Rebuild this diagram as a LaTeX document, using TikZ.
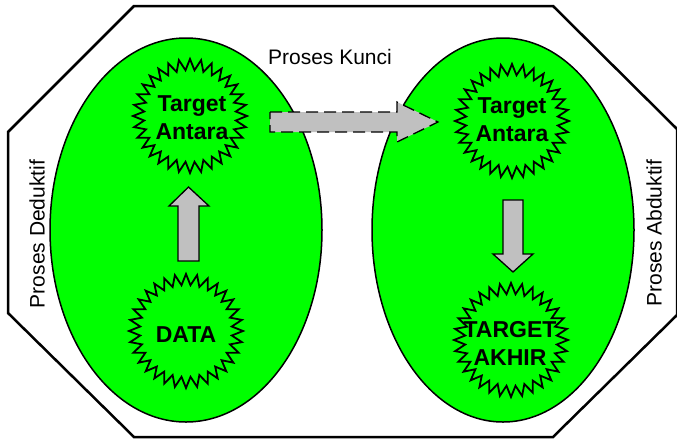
\documentclass[tikz,border=0pt]{standalone}
\usepackage{fontspec}
\setmainfont{Liberation Sans}
\definecolor{blobgreen}{RGB}{0,255,0}
\definecolor{arrowgray}{RGB}{192,192,192}
\begin{document}
\begin{tikzpicture}[x=1pt,y=-1pt,
  frame/.style={draw=black,line width=2.5pt,line join=miter},
  blob/.style={draw=black,line width=1.5pt,fill=blobgreen},
  burst/.style={draw=black,line width=1.8pt,line join=miter},
  blockarrow/.style={draw=black,line width=1.3pt,fill=arrowgray,line join=miter},
  startext/.style={font=\bfseries\fontsize{23}{28}\selectfont,align=center,inner sep=0pt},
  sidetext/.style={font=\fontsize{21}{25}\selectfont,inner sep=0pt}]
\useasboundingbox (0,0) rectangle (677,440);
% octagon frame
\draw[frame] (134,6) -- (553,6) -- (677,129) -- (677,315) -- (553,437) -- (134,437) -- (8,313) -- (8,132) -- cycle;
% ellipses
\draw[blob] (186,230) ellipse [x radius=136pt, y radius=192pt];
\draw[blob] (503,230) ellipse [x radius=131pt, y radius=192pt];
% starbursts
\foreach \cx/\cy in {190/116, 512/121, 186/331, 511/340}{
  \draw[burst,shift={(\cx,\cy)}] plot[domain=0:63,samples=64,variable=\k] ({90+\k*5.625}:{57-11*mod(round(\k),2)}) -- cycle;
}
% block arrows
\draw[blockarrow] (178,261) -- (178,206) -- (169,206) -- (188.5,187) -- (209,206) -- (199,206) -- (199,261) -- cycle;
\draw[blockarrow] (503,200) -- (523,200) -- (523,254) -- (533,254) -- (513,272) -- (493,254) -- (503,254) -- cycle;
\draw[blockarrow,dash pattern=on 12pt off 6pt] (270,112) -- (397,112) -- (397,102) -- (438,122) -- (397,142) -- (397,132) -- (270,132) -- cycle;
% texts
\node[startext] (ta1) at (192,118) {Target\\Antara};
\node[startext] (ta2) at (512,120) {Target\\Antara};
\node[startext] (data) at (186,335) {DATA};
\node[startext] (akhir) at (510,343) {TARGET\\AKHIR};
\node[sidetext] (kunci) at (330,57) {Proses Kunci};
\node[sidetext,rotate=90] (ded) at (37,234) {Proses Deduktif};
\node[sidetext,rotate=90] (abd) at (654,233) {Proses Abduktif};
\end{tikzpicture}
\end{document}
